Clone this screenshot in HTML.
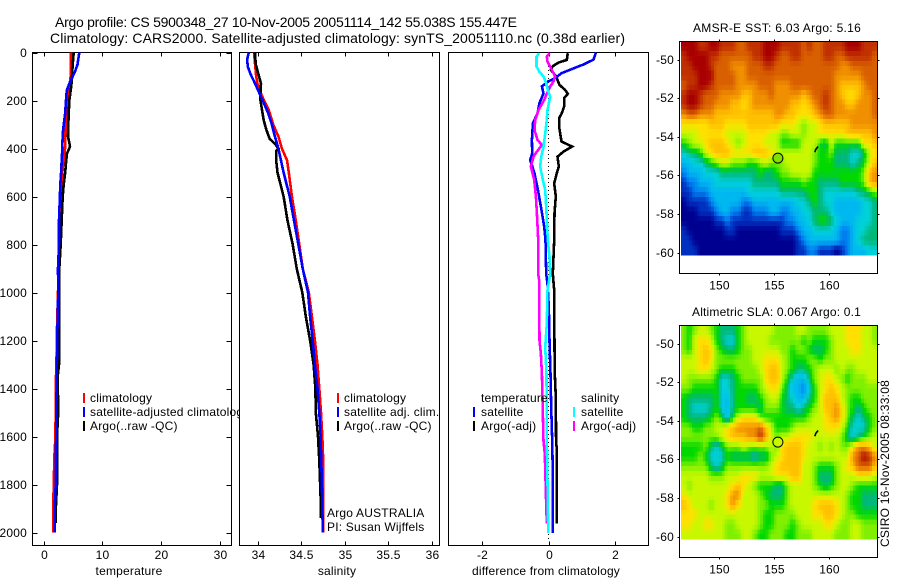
<!DOCTYPE html>
<html><head><meta charset="utf-8"><title>Argo profile</title>
<style>
html,body{margin:0;padding:0;background:#fff;width:900px;height:580px;overflow:hidden}
svg{display:block}
text{font-family:"Liberation Sans",sans-serif;font-size:12px;fill:#000;letter-spacing:.2px}
.ti{font-size:14px;letter-spacing:0}
</style></head>
<body>
<svg id="chart" width="900" height="580" viewBox="0 0 900 580" xmlns="http://www.w3.org/2000/svg">
<rect x="0" y="0" width="900" height="580" fill="#fff"/>
<text class="ti" x="55" y="27" textLength="462">Argo profile: CS 5900348_27 10-Nov-2005 20051114_142 55.038S 155.447E</text>
<text class="ti" x="50" y="43" textLength="575">Climatology: CARS2000. Satellite-adjusted climatology: synTS_20051110.nc (0.38d earlier)</text>
<g id="layer"></g>
<text x="693" y="32" textLength="168">AMSR-E SST: 6.03 Argo: 5.16</text>
<text x="692" y="316" textLength="169">Altimetric SLA: 0.067 Argo: 0.1</text>
<text transform="translate(889,547) rotate(-90)" textLength="167">CSIRO 16-Nov-2005 08:33:08</text>
</svg>
<script>
// ---- profile data (depth in dbar, value in physical units) ----
const tempTicks = [0, 10, 20, 30];
const salTicks = [34, 34.5, 35, 35.5, 36];
const salTickLabels = ['34', '34.5', '35', '35.5', '36'];
const diffTicks = [-2, 0, 2];
const depthTicks = [0, 200, 400, 600, 800, 1000, 1200, 1400, 1600, 1800, 2000];
const lonTicks = [150, 155, 160];
const latTicks = [-50, -52, -54, -56, -58, -60];

const tempClimDepth = [0, 100, 200, 300, 400, 500, 600, 800, 1000, 1150, 1200, 1400, 1600, 1680, 1880, 2000];
const tempClim = [4.68, 4.62, 4.1, 3.8, 3.66, 3.2, 3.0, 2.7, 2.47, 2.3, 2.3, 2.08, 2.05, 1.85, 1.67, 1.67];
const tempSatDepth = [0, 50, 80, 100, 120, 140, 160, 200, 260, 300, 340, 400, 450, 500, 550, 600, 700, 800, 900, 1000, 1200, 1500, 1800, 1900, 2000];
const tempSat = [6.1, 5.8, 5.37, 4.97, 4.6, 4.23, 3.95, 3.83, 3.66, 3.44, 3.27, 3.2, 3.1, 3.0, 2.86, 2.8, 2.64, 2.64, 2.47, 2.5, 2.33, 2.18, 2.08, 1.9, 1.9];
const tempArgoDepth = [0, 50, 100, 140, 200, 300, 350, 390, 400, 420, 460, 500, 550, 600, 700, 800, 900, 1000, 1200, 1300, 1350, 1500, 1600, 1800, 1900, 1960];
const tempArgo = [5.14, 4.97, 4.85, 4.74, 4.4, 4.23, 4.17, 4.51, 4.4, 4.0, 3.83, 3.7, 3.44, 3.27, 3.1, 2.93, 2.7, 2.7, 2.64, 2.64, 2.42, 2.5, 2.3, 2.3, 2.1, 2.1];

const salClimDepth = [0, 100, 130, 180, 240, 300, 350, 400, 450, 500, 600, 700, 800, 900, 1000, 1100, 1200, 1300, 1400, 1500, 1600, 1700, 2000];
const salClim = [33.96, 33.985, 34.0, 34.05, 34.13, 34.18, 34.24, 34.28, 34.34, 34.36, 34.395, 34.44, 34.48, 34.52, 34.59, 34.625, 34.66, 34.69, 34.71, 34.73, 34.745, 34.755, 34.755];
const salSatDepth = [0, 30, 60, 90, 120, 160, 200, 250, 300, 350, 400, 450, 500, 600, 700, 800, 900, 1000, 1100, 1200, 1300, 1400, 1500, 1600, 1800, 2000];
const salSat = [33.9, 33.88, 33.89, 33.92, 33.96, 34.01, 34.06, 34.12, 34.165, 34.2, 34.24, 34.27, 34.3, 34.37, 34.42, 34.47, 34.52, 34.58, 34.605, 34.635, 34.66, 34.69, 34.71, 34.725, 34.74, 34.75];
const salArgoDepth = [0, 50, 90, 130, 190, 280, 320, 360, 380, 400, 410, 450, 500, 600, 700, 800, 900, 1000, 1100, 1200, 1300, 1400, 1500, 1600, 1700, 1900, 1940];
const salArgo = [33.97, 33.98, 34.01, 34.04, 34.03, 34.07, 34.1, 34.14, 34.2, 34.24, 34.215, 34.215, 34.23, 34.3, 34.345, 34.405, 34.45, 34.515, 34.555, 34.605, 34.645, 34.665, 34.67, 34.695, 34.71, 34.73, 34.73];

const diffTempSatDepth = [0, 30, 50, 72, 86, 111, 120, 141, 170, 211, 253, 295, 364, 420, 448, 503, 573, 642, 725, 781, 922, 964, 1061, 1200, 1339, 1478, 1617, 1756, 2003];
const diffTempSat = [1.43, 1.35, 1.05, 0.65, 0.4, 0.15, 0, -0.2, -0.15, -0.27, -0.33, -0.47, -0.5, -0.49, -0.55, -0.42, -0.32, -0.23, -0.13, -0.09, -0.07, -0.03, 0.01, 0.03, 0.06, 0.08, 0.11, 0.13, 0.13];
const diffTempArgoDepth = [3, 31, 42, 58, 72, 100, 135, 156, 172, 190, 225, 253, 274, 309, 371, 392, 413, 434, 475, 503, 545, 600, 670, 781, 852, 922, 991, 1228, 1339, 1436, 1631, 1645, 1962];
const diffTempArgo = [0.58, 0.55, 0.3, 0.12, 0.07, 0.23, 0.33, 0.5, 0.58, 0.47, 0.47, 0.4, 0.32, 0.32, 0.39, 0.71, 0.45, 0.27, 0.31, 0.25, 0.17, 0.22, 0.18, 0.17, 0.15, 0.13, 0.17, 0.18, 0.19, 0.22, 0.23, 0.25, 0.25];
const diffSalSatDepth = [3, 17, 58, 79, 100, 128, 156, 184, 198, 239, 281, 337, 392, 434, 475, 531, 573, 642, 781, 852, 922, 964, 991, 1130, 1228, 1339, 1617, 1867, 2003];
const diffSalSat = [-0.28, -0.36, -0.36, -0.28, -0.15, -0.07, -0.02, 0.05, 0.03, -0.03, -0.05, -0.1, -0.15, -0.22, -0.25, -0.17, -0.1, -0.07, -0.02, 0.03, 0.05, 0, -0.03, -0.05, -0.1, -0.06, -0.05, -0.02, -0.01];
const diffSalArgoDepth = [3, 17, 38, 72, 100, 121, 142, 177, 198, 239, 281, 323, 364, 385, 413, 434, 475, 531, 600, 670, 781, 922, 950, 1200, 1256, 1339, 1617, 1672, 1881, 1962];
const diffSalArgo = [0.03, -0.05, -0.03, 0.1, 0.2, 0.15, 0.05, -0.07, -0.13, -0.3, -0.4, -0.42, -0.33, -0.2, -0.35, -0.45, -0.53, -0.43, -0.38, -0.35, -0.31, -0.31, -0.28, -0.27, -0.23, -0.2, -0.15, -0.11, -0.07, -0.05];

// ---- map data: colour-level grids, north to south, west to east ----
const sstLevels = [
[14,14,14,13,13,14,14,13,13,13,12,12,13,13,13,14,14,14,13,13,13,13,12,13,12,12,13,13,13,13,14,14,14,13,13,13],
[13,14,14,14,14,13,13,12,12,12,12,12,12,13,13,14,14,13,12,12,13,13,12,12,12,12,13,13,12,12,13,13,13,13,13,12],
[13,13,14,14,14,13,12,12,12,11,11,11,12,12,12,13,13,12,12,12,12,12,12,12,12,12,12,12,12,11,11,12,12,12,12,12],
[13,13,13,14,14,14,12,12,12,12,11,11,12,12,12,12,12,12,12,12,12,12,12,12,12,12,12,12,11,11,11,11,11,12,12,12],
[12,13,13,14,14,13,12,12,12,12,11,11,11,11,12,12,12,11,11,11,12,12,12,12,12,12,12,12,11,10,10,10,10,11,12,12],
[13,14,14,13,12,12,12,11,11,11,11,10,10,11,11,11,12,11,11,11,11,11,10,11,12,12,13,12,11,10,9,9,10,11,11,12],
[13,14,14,13,12,12,11,11,11,10,10,9,10,11,11,11,11,11,11,11,10,10,9,10,11,12,13,12,11,11,10,10,11,11,11,12],
[11,12,12,11,11,11,10,10,10,10,10,10,10,10,10,10,10,11,11,10,10,9,9,9,10,11,12,12,11,11,11,11,11,11,11,12],
[9,9,9,9,9,10,10,10,9,9,9,9,10,10,10,10,10,10,9,9,9,8,7,8,8,9,10,10,10,10,10,11,11,11,11,11],
[8,8,8,9,9,9,9,9,8,8,8,8,9,9,9,9,8,8,7,7,8,8,7,8,8,9,9,9,9,9,10,10,10,10,10,11],
[6,7,8,8,9,10,10,10,9,8,7,8,9,9,9,8,8,8,6,6,6,6,8,8,8,6,5,8,6,6,6,6,6,9,9,10],
[4,5,5,6,8,9,10,10,10,9,9,9,9,10,10,10,9,8,8,8,8,8,8,8,7,6,6,7,5,5,5,4,4,5,8,9],
[3,3,4,4,5,6,7,8,8,7,7,7,6,6,7,8,7,7,7,8,8,8,8,8,7,6,6,6,5,5,5,4,5,6,8,10],
[2,3,3,3,4,4,4,5,5,5,5,5,5,5,6,5,5,6,7,7,8,8,8,8,6,6,6,6,6,6,6,6,6,7,10,11],
[1,2,2,3,3,3,4,4,4,4,4,4,4,5,5,5,5,5,6,6,6,6,7,6,6,5,5,5,5,6,6,6,6,7,10,11],
[1,1,2,2,2,3,3,3,3,3,3,3,4,4,4,4,4,4,5,5,5,5,5,6,6,5,4,4,4,4,4,4,5,5,6,7],
[0,1,1,1,1,2,3,3,3,3,3,2,2,3,3,3,3,3,3,3,3,4,4,5,6,5,4,4,3,3,3,3,3,4,4,5],
[0,0,0,1,1,1,2,3,3,2,2,1,1,2,2,2,3,3,2,2,3,3,4,4,5,5,5,4,3,3,3,3,3,4,4,5],
[0,0,0,0,0,0,1,1,2,1,1,1,1,1,1,1,1,1,1,2,2,3,3,4,5,6,6,5,4,3,3,3,4,4,4,5],
[1,0,0,0,0,0,0,0,1,1,0,0,0,0,0,0,0,0,1,1,1,2,3,3,4,4,4,4,3,2,2,3,4,4,5,5],
[1,1,0,0,0,0,0,0,0,0,0,0,0,0,0,0,0,0,0,0,0,1,2,3,3,3,3,3,3,2,2,3,4,5,5,5],
[1,1,1,0,0,0,0,0,0,0,0,0,0,0,0,0,0,0,0,0,0,1,1,2,2,1,1,1,0,1,2,3,3,3,4,4]
];
const slaLevels = [
[7,6,7,8,8,7,6,5,5,5,6,7,8,8,8,8,8,7,7,7,7,8,8,7,7,7,7,8,8,8,9,9,9,8,8,7],
[7,6,8,9,9,8,6,5,4,4,6,7,8,8,8,8,7,7,7,7,7,7,6,7,6,6,6,7,8,8,9,9,9,8,8,7],
[7,6,8,9,10,9,7,6,5,5,6,7,7,8,8,8,8,8,7,7,6,7,7,6,5,5,6,7,8,8,8,9,9,8,8,8],
[8,8,8,9,10,9,7,7,7,7,7,7,7,8,8,9,9,9,8,7,6,6,6,7,7,6,7,7,8,8,8,8,8,8,8,8],
[8,8,8,9,9,8,7,6,6,6,7,7,7,7,8,9,10,10,8,7,6,5,5,6,7,8,8,8,7,8,7,7,8,8,8,8],
[8,7,7,7,7,7,6,4,4,5,6,7,7,7,7,9,10,10,8,6,4,3,3,5,7,8,9,9,8,7,6,7,7,7,8,8],
[7,7,6,6,6,6,6,4,4,5,6,6,6,6,7,8,9,9,7,5,3,3,2,4,6,8,9,10,9,8,7,7,7,7,7,7],
[6,5,5,5,5,5,6,4,3,5,6,6,5,5,6,7,8,8,6,5,4,3,3,5,6,8,10,10,10,8,7,6,6,7,7,7],
[6,5,4,4,4,5,6,4,3,5,6,6,6,6,5,7,7,7,6,5,5,4,5,6,7,8,10,10,11,9,7,6,5,6,7,7],
[6,5,5,5,5,6,7,6,3,6,8,9,9,9,7,6,6,6,6,6,6,6,6,7,8,8,9,10,11,9,7,5,4,5,6,7],
[7,7,6,6,7,7,8,8,9,10,11,11,11,11,12,10,8,6,6,6,7,8,8,8,8,8,9,9,9,8,6,4,4,4,6,7],
[7,7,7,7,7,7,7,8,9,10,10,10,11,11,13,11,8,7,8,8,9,9,9,9,8,8,8,8,8,7,5,4,5,6,7,8],
[6,6,6,6,7,5,4,5,7,7,7,8,7,7,7,7,8,7,9,10,10,10,9,8,8,7,8,7,8,7,7,9,11,11,10,8],
[6,6,6,7,6,4,4,4,6,5,5,5,5,4,5,5,7,8,9,10,10,10,9,8,8,8,8,8,8,8,8,11,12,14,13,11],
[7,7,7,7,7,5,4,5,7,7,7,7,7,7,7,7,8,9,10,10,10,10,8,8,7,6,6,6,7,8,9,10,12,12,12,10],
[8,8,8,8,8,7,7,7,8,8,8,9,9,9,8,8,8,9,9,9,10,10,8,8,7,5,5,5,7,8,8,8,9,9,9,8],
[8,7,8,8,8,8,8,8,8,9,10,9,8,7,6,6,6,5,5,7,8,8,8,8,7,6,5,6,7,8,8,7,6,6,6,6],
[9,8,8,8,8,8,8,8,9,11,11,8,8,8,7,6,5,5,5,7,8,8,8,8,8,8,8,8,8,8,7,6,6,5,5,5],
[10,9,8,8,8,7,8,8,9,11,9,8,8,8,7,7,6,6,6,7,8,8,8,8,9,10,10,10,9,8,7,6,6,5,5,5],
[9,9,9,8,8,8,8,8,8,8,8,8,8,8,7,6,6,7,7,7,7,8,8,8,9,9,10,10,9,8,7,7,6,6,6,6],
[9,9,8,8,9,9,8,8,7,7,8,8,8,8,7,6,6,7,7,7,6,7,8,8,8,8,9,9,8,7,7,8,8,7,7,7],
[8,8,8,8,8,8,8,8,7,7,7,8,8,7,6,6,7,7,7,6,6,7,7,7,8,8,8,8,7,7,7,8,8,7,7,7]
];
const floatLon = [155.4];
const floatLat = [-55.1];
const trackLon = [159.05, 158.85, 158.75];
const trackLat = [-54.5, -54.65, -54.8];

// ---- helpers ----
const NS = 'http://www.w3.org/2000/svg';
const layer = document.getElementById('layer');
const levelRgb = [[0,0,144],[0,48,192],[0,128,240],[0,184,240],[0,208,216],[0,184,120],[0,216,0],[128,240,0],[200,248,0],[255,224,0],[255,192,0],[240,144,0],[216,96,0],[192,48,0],[168,0,0]];
function levelColor(v) {
  const a = Math.max(0, Math.min(levelRgb.length - 1, v));
  const i = Math.min(levelRgb.length - 2, Math.floor(a));
  const f = a - i;
  const c = levelRgb[i].map((ch, k) => Math.round(ch + (levelRgb[i + 1][k] - ch) * f));
  return 'rgb(' + c.join(',') + ')';
}
function el(tag, attrs, parent) {
  const e = document.createElementNS(NS, tag);
  for (const k in attrs) e.setAttribute(k, attrs[k]);
  (parent || layer).appendChild(e);
  return e;
}
function label(str, x, y, anchor, name) {
  const t = el('text', {x: x, y: y, 'text-anchor': anchor || 'start'});
  t.textContent = str;
  
  
  return t;
}
function seg(x1, y1, x2, y2, name) {
  const l = el('line', {x1: x1, y1: y1, x2: x2, y2: y2, stroke: '#000', 'stroke-width': 1, 'shape-rendering': 'crispEdges'});
  
  
  return l;
}
const depthY = d => 52.5 + d * 0.24;
const tempX = v => 43.5 + v * 5.87;
const salX = v => 257.5 + (v - 34) * 87;
const diffX = v => 548.5 + v * 33.25;
const TOP = 52.5, BOT = 545.5;

function panelFrame(x0, x1, name) {
  const r = el('rect', {x: x0, y: TOP, width: x1 - x0, height: BOT - TOP, fill: '#fff', stroke: '#000', 'stroke-width': 1, 'shape-rendering': 'crispEdges'});
  
  
}
function xAxis(ticks, labels, fx, panel) {
  ticks.forEach((t, i) => {
    const x = Math.round(fx(t)) + 0.5;
    seg(x, TOP, x, TOP + 4, panel + '-top-tick');
    seg(x, BOT - 4, x, BOT, panel + '-bottom-tick');
    label(labels[i], x, 559, 'middle', panel + '-x-tick-label');
  });
}
function profile(depths, values, fx, color, name, width) {
  const pts = depths.map((d, i) => fx(values[i]).toFixed(1) + ',' + depthY(d).toFixed(1)).join(' ');
  const p = el('polyline', {points: pts, fill: 'none', stroke: color, 'stroke-width': width || 2.6, 'shape-rendering': 'crispEdges'});
  
  
}
function legendMark(x, y, color, name) {
  const r = el('rect', {x: x, y: y, width: 2, height: 10, fill: color, 'shape-rendering': 'crispEdges'});
  
  
}

// ---- panel 1: temperature ----
panelFrame(32.5, 231.5, 'temperature-panel');
xAxis(tempTicks, tempTicks.map(String), tempX, 'temperature');
depthTicks.forEach(d => {
  const y = Math.round(depthY(d)) + 0.5;
  seg(32.5, y, 37.5, y, 'depth-left-tick');
  seg(226.5, y, 231.5, y, 'depth-right-tick');
  label(String(d), 27, y + 3.5, 'end', 'depth-tick-label');
});
profile(tempClimDepth, tempClim, tempX, '#ff0000', 'temperature-climatology-line');
profile(tempArgoDepth, tempArgo, tempX, '#000000', 'temperature-argo-line');
profile(tempSatDepth, tempSat, tempX, '#0000ff', 'temperature-satellite-line');
legendMark(83, 393, '#ff0000', 'legend-mark-climatology');
legendMark(83, 407, '#0000ff', 'legend-mark-satellite');
legendMark(83, 421, '#000000', 'legend-mark-argo');
label('climatology', 90, 402, 'start', 'legend-climatology');
label('satellite-adjusted climatology', 90, 416, 'start', 'legend-satellite-adjusted');
label('Argo(..raw -QC)', 90, 430, 'start', 'legend-argo');
label('temperature', 129, 575, 'middle', 'temperature-axis-title');

// ---- panel 2: salinity ----
panelFrame(239.5, 439.5, 'salinity-panel');
xAxis(salTicks, salTickLabels, salX, 'salinity');
profile(salClimDepth, salClim, salX, '#ff0000', 'salinity-climatology-line');
profile(salArgoDepth, salArgo, salX, '#000000', 'salinity-argo-line');
profile(salSatDepth, salSat, salX, '#0000ff', 'salinity-satellite-line');
legendMark(337, 393, '#ff0000', 'legend-mark-sal-climatology');
legendMark(337, 407, '#0000ff', 'legend-mark-sal-satellite');
legendMark(337, 421, '#000000', 'legend-mark-sal-argo');
label('climatology', 344, 402, 'start', 'legend-sal-climatology');
label('satellite adj. clim.', 344, 416, 'start', 'legend-sal-satellite');
label('Argo(..raw -QC)', 344, 430, 'start', 'legend-sal-argo');
label('Argo AUSTRALIA', 327, 517, 'start', 'argo-program-label');
label('PI: Susan Wijffels', 327, 531, 'start', 'principal-investigator-label');
label('salinity', 337, 575, 'middle', 'salinity-axis-title');

// ---- panel 3: differences ----
panelFrame(448.5, 648.5, 'difference-panel');
xAxis(diffTicks, diffTicks.map(String), diffX, 'difference');
const zeroLine = el('line', {x1: diffX(0), y1: 62, x2: diffX(0), y2: 540, stroke: '#000', 'stroke-width': 1, 'stroke-dasharray': '1 3', 'shape-rendering': 'crispEdges'});


profile(diffTempArgoDepth, diffTempArgo, diffX, '#000000', 'difference-temperature-argo-line');
profile(diffTempSatDepth, diffTempSat, diffX, '#0000ff', 'difference-temperature-satellite-line');
profile(diffSalArgoDepth, diffSalArgo, diffX, '#ff00ff', 'difference-salinity-argo-line');
profile(diffSalSatDepth, diffSalSat, diffX, '#00ffff', 'difference-salinity-satellite-line');
label('temperature', 481, 402, 'start', 'legend-group-temperature');
label('salinity', 581, 402, 'start', 'legend-group-salinity');
legendMark(473, 407, '#0000ff', 'legend-mark-diff-temp-satellite');
legendMark(473, 421, '#000000', 'legend-mark-diff-temp-argo');
legendMark(573, 407, '#00ffff', 'legend-mark-diff-sal-satellite');
legendMark(573, 421, '#ff00ff', 'legend-mark-diff-sal-argo');
label('satellite', 481, 416, 'start', 'legend-diff-temp-satellite');
label('Argo(-adj)', 481, 430, 'start', 'legend-diff-temp-argo');
label('satellite', 581, 416, 'start', 'legend-diff-sal-satellite');
label('Argo(-adj)', 581, 430, 'start', 'legend-diff-sal-argo');
const diffTitle = label('difference from climatology', 472, 575, 'start', 'difference-axis-title');
diffTitle.setAttribute('textLength', '148');

// ---- maps ----
function sampleLevel(levels, u, v) {
  const rows = levels.length, cols = levels[0].length;
  const x = Math.max(0, Math.min(cols - 1, u)), y = Math.max(0, Math.min(rows - 1, v));
  const c0 = Math.floor(x), r0 = Math.floor(y);
  const c1 = Math.min(cols - 1, c0 + 1), r1 = Math.min(rows - 1, r0 + 1);
  const fx = x - c0, fy = y - r0;
  const top = levels[r0][c0] * (1 - fx) + levels[r0][c1] * fx;
  const bot = levels[r1][c0] * (1 - fx) + levels[r1][c1] * fx;
  return top * (1 - fy) + bot * fy;
}
function drawMap(levels, frameTop, frameBottom, imageBottom, lat50Y, prefix, circleFill) {
  const left = 679.5, right = 877.5, imgLeft = 681, imgRight = 877.5;
  const lonX = lon => 718.5 + (lon - 150) * 11;
  const latY = lat => lat50Y + (-50 - lat) * 19.33;
  const rows = levels.length, cols = levels[0].length;
  const sub = 2;
  const cw = (imgRight - imgLeft) / cols / sub, ch = (imageBottom - frameTop) / rows / sub;
  const bg = el('rect', {x: left, y: frameTop, width: right - left, height: frameBottom - frameTop, fill: '#fff'});
  
  
  for (let r = 0; r < rows * sub; r++) {
    for (let c = 0; c < cols * sub; c++) {
      const lv = sampleLevel(levels, (c + 0.5) / sub - 0.5, (r + 0.5) / sub - 0.5);
      const cell = el('rect', {x: (imgLeft + c * cw).toFixed(2), y: (frameTop + r * ch).toFixed(2), width: (cw + 0.6).toFixed(2), height: (ch + 0.6).toFixed(2), fill: levelColor(lv), 'shape-rendering': 'crispEdges'});
      
      
    }
  }
  const frame = el('rect', {x: left, y: frameTop, width: right - left, height: frameBottom - frameTop, fill: 'none', stroke: '#000', 'stroke-width': 1, 'shape-rendering': 'crispEdges'});
  
  
  lonTicks.forEach(lon => {
    const x = Math.round(lonX(lon)) + 0.5;
    seg(x, frameTop - 2, x, frameTop, prefix + '-lon-tick-top');
    seg(x, frameBottom, x, frameBottom + 2, prefix + '-lon-tick-bottom');
    label(String(lon), x, frameBottom + 16, 'middle', prefix + '-lon-label');
  });
  latTicks.forEach(lat => {
    const y = Math.round(latY(lat)) + 0.5;
    seg(left - 2, y, left, y, prefix + '-lat-tick-left');
    seg(right, y, right + 2, y, prefix + '-lat-tick-right');
    label(String(lat), 674, y + 3.5, 'end', prefix + '-lat-label');
  });
  const track = el('polyline', {points: trackLon.map((lon, i) => lonX(lon).toFixed(1) + ',' + latY(trackLat[i]).toFixed(1)).join(' '), fill: 'none', stroke: '#000', 'stroke-width': 1.6});
  
  
  const dot = el('circle', {cx: lonX(floatLon[0]), cy: latY(floatLat[0]), r: 5, fill: circleFill, stroke: '#000', 'stroke-width': 1});
  
  
}
drawMap(sstLevels, 41.5, 273.5, 255, 59.5, 'sst', '#80e000');
drawMap(slaLevels, 325.5, 557.5, 539, 343.5, 'sla', '#c8f800');
</script>
</body></html>
